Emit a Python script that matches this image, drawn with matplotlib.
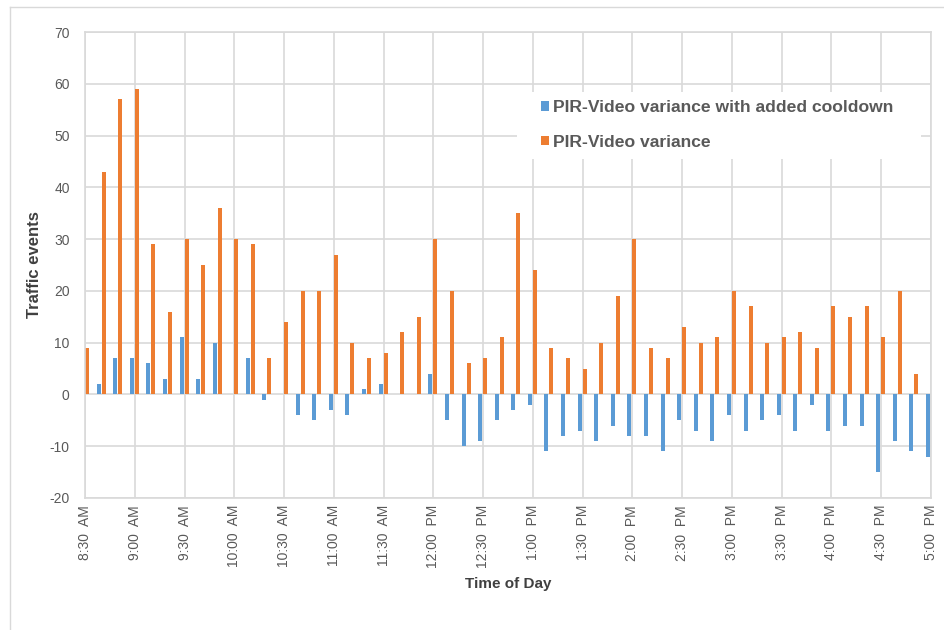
import matplotlib.pyplot as plt
import numpy as np
from matplotlib.lines import Line2D
from matplotlib.patches import Rectangle

# one slot every 10 minutes, 8:30 AM .. 5:00 PM
tick_labels = ["8:30  AM", "9:00  AM", "9:30  AM", "10:00  AM", "10:30  AM",
               "11:00  AM", "11:30  AM", "12:00  PM", "12:30  PM", "1:00  PM",
               "1:30  PM", "2:00  PM", "2:30  PM", "3:00  PM", "3:30  PM",
               "4:00  PM", "4:30  PM", "5:00  PM"]

cooldown = [0, 2, 7, 7, 6, 3, 11, 3, 10, 0, 7, -1,
            0, -4, -5, -3, -4, 1, 2, 0, 0, 4,
            -5, -10, -9, -5, -3, -2, -11, -8, -7, -9, -6, -8,
            -8, -11, -5, -7, -9, -4, -7, -5, -4, -7, -2,
            -7, -6, -6, -15, -9, -11, -12]
variance = [9, 43, 57, 59, 29, 16, 30, 25, 36, 30, 29, 7,
            14, 20, 20, 27, 10, 7, 8, 12, 15, 30,
            20, 6, 7, 11, 35, 24, 9, 7, 5, 10, 19, 30,
            9, 7, 13, 10, 11, 20, 17, 10, 11, 12, 9,
            17, 15, 17, 11, 20, 4, 0]

BLUE = "#5B9BD5"
ORANGE = "#ED7D31"
GRID = "#D9D9D9"
TXT = "#595959"
plt.rcParams["font.family"] = ["Liberation Sans", "DejaVu Sans"]
plt.rcParams["axes.unicode_minus"] = False

fig = plt.figure(figsize=(9.44, 6.3), dpi=100)
ax = fig.add_axes([85 / 944, 1 - 498 / 630, 846 / 944, 466 / 630])

x = np.arange(len(variance))
ax.bar(x - 0.18, cooldown, width=0.24, color=BLUE, label="PIR-Video variance with added cooldown")
ax.bar(x + 0.12, variance, width=0.24, color=ORANGE, label="PIR-Video variance")

ax.set_xlim(0, len(variance) - 1)
ax.set_ylim(-20, 70)
ax.set_yticks(range(-20, 71, 10))
ax.set_xticks(np.arange(0, len(variance), 3))
ax.set_xticklabels(tick_labels, rotation=90)
ax.tick_params(length=0, labelcolor=TXT, labelsize=10)
ax.tick_params(axis="y", pad=11)
ax.tick_params(axis="x", pad=5)

ax.set_axisbelow(True)
ax.grid(True, color=GRID, linewidth=1.2)
for s in ax.spines.values():
    s.set_color(GRID)
    s.set_linewidth(1.2)

ax.set_ylabel("Traffic events", fontsize=12, fontweight="bold", color="#404040")
ax.yaxis.set_label_coords(-0.0508, 0.5)
ax.set_xlabel("Time of Day", fontsize=11, fontweight="bold", color="#404040")
ax.xaxis.set_label_coords(0.5, -0.1695)

# white legend area hiding the gridlines
ax.add_patch(Rectangle((0.5106, 0.7275), 0.4775, 0.1438, transform=ax.transAxes,
                       facecolor="white", edgecolor="none", zorder=0.8))
leg = ax.legend(loc="upper left", bbox_to_anchor=(0.539, 0.854), frameon=False,
                borderpad=0, borderaxespad=0, handlelength=0.45, handleheight=0.45,
                handletextpad=0.25, labelspacing=1.14,
                prop={"size": 12.6, "weight": "bold"})
for t in leg.get_texts():
    t.set_color(TXT)

# chart area border
fig.add_artist(Line2D([10 / 944, 1], [1 - 7 / 630, 1 - 7 / 630], color=GRID, lw=1))
fig.add_artist(Line2D([10 / 944, 10 / 944], [0, 1 - 7 / 630], color=GRID, lw=1))

fig.savefig("out.png")
